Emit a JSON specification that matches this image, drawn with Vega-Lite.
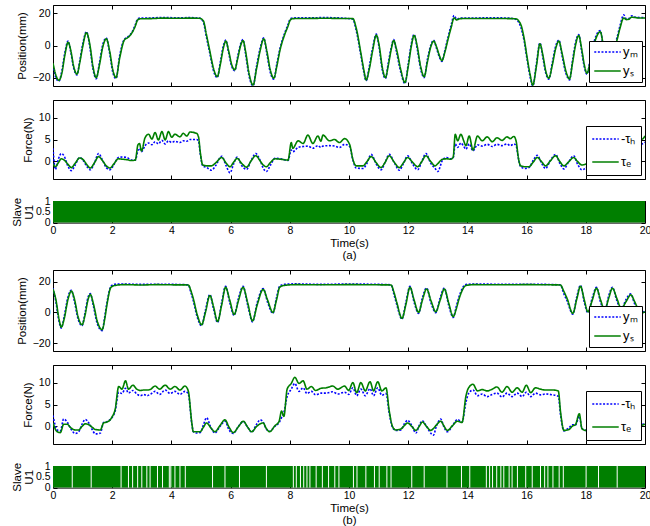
{
"$schema": "https://vega.github.io/schema/vega-lite/v6.json",
"padding": {"left": 10, "top": 4, "right": 0, "bottom": 0},
"config": {
  "font": "Liberation Sans",
  "view": {"stroke": "#000", "strokeWidth": 1},
  "axis": {"grid": false, "domain": false, "tickColor": "#000", "tickSize": -4, "tickWidth": 1, "labelPadding": 7, "labelFontSize": 10.5, "labelColor": "#000", "titleFontSize": 11.5, "titleFontWeight": "normal", "titleColor": "#000", "labelFlush": false, "labelOverlap": false, "titlePadding": 5},
  "legend": {"orient": "none", "title": null, "strokeColor": "#000", "fillColor": "#fff", "padding": 4, "symbolType": "stroke", "symbolSize": 700, "symbolStrokeWidth": 1.6, "labelFontSize": 13, "labelColor": "#000", "labelOffset": 1, "rowPadding": 5, "clipHeight": 14}
},
"datasets": {
  "posA": [
    {"t":0,"ys":-10.9,"ym":-12},{"t":0.1,"ys":-18.5,"ym":-20},{"t":0.2,"ys":-21.5,"ym":-22},{"t":0.3,"ys":-17,"ym":-15.5},{"t":0.4,"ys":-6,"ym":-4.5},{"t":0.51,"ys":2,"ym":2.8},{"t":0.6,"ys":-3,"ym":-4},{"t":0.7,"ys":-13,"ym":-14},{"t":0.81,"ys":-17.7,"ym":-18.2},{"t":0.9,"ys":-11,"ym":-10},{"t":1.0,"ys":-1,"ym":0.5},{"t":1.13,"ys":7.9,"ym":8.5},{"t":1.25,"ys":0,"ym":-1.5},{"t":1.35,"ys":-13,"ym":-14.5},{"t":1.46,"ys":-19.8,"ym":-20.5},{"t":1.57,"ys":-12,"ym":-10.5},{"t":1.68,"ys":-1,"ym":0.5},{"t":1.8,"ys":4.1,"ym":4.6},{"t":1.92,"ys":-4,"ym":-5.5},{"t":2.02,"ys":-15,"ym":-16.5},{"t":2.13,"ys":-19.8,"ym":-20.4},{"t":2.25,"ys":-8,"ym":-6.5},{"t":2.41,"ys":3.3,"ym":3.8},{"t":2.55,"ys":5.2,"ym":5.6},{"t":2.67,"ys":7.9,"ym":8.3},{"t":2.78,"ys":12,"ym":12.8},{"t":2.86,"ys":15.8,"ym":16.4},{"t":2.95,"ys":16.5,"ym":16.9},{"t":3.3,"ys":16.6,"ym":17},{"t":3.7,"ys":16.9,"ym":17.3},{"t":4.2,"ys":16.8,"ym":17.1},{"t":4.6,"ys":16.9,"ym":17.2},{"t":4.95,"ys":16.8,"ym":16.9},{"t":5.08,"ys":15.2,"ym":14.4},{"t":5.18,"ys":7,"ym":5.5},{"t":5.3,"ys":-3.6,"ym":-5},{"t":5.42,"ys":-14,"ym":-15.5},{"t":5.55,"ys":-19.2,"ym":-19.8},{"t":5.65,"ys":-12,"ym":-10.5},{"t":5.75,"ys":-2,"ym":-0.5},{"t":5.84,"ys":2.7,"ym":3.3},{"t":5.93,"ys":-3,"ym":-4.2},{"t":6.04,"ys":-12,"ym":-13},{"t":6.14,"ys":-15,"ym":-15.6},{"t":6.24,"ys":-8,"ym":-6.8},{"t":6.34,"ys":0,"ym":1},{"t":6.42,"ys":3.1,"ym":3.6},{"t":6.5,"ys":-3,"ym":-4.5},{"t":6.62,"ys":-17,"ym":-18.5},{"t":6.76,"ys":-24.4,"ym":-24.8},{"t":6.88,"ys":-14,"ym":-12.5},{"t":7.0,"ys":-3,"ym":-1.5},{"t":7.12,"ys":4.1,"ym":4.7},{"t":7.22,"ys":-3,"ym":-4.5},{"t":7.34,"ys":-15,"ym":-16.5},{"t":7.46,"ys":-20.2,"ym":-20.8},{"t":7.56,"ys":-13,"ym":-11.5},{"t":7.66,"ys":-3.6,"ym":-2.5},{"t":7.83,"ys":6.9,"ym":7.8},{"t":7.93,"ys":11.5,"ym":12.5},{"t":8.02,"ys":15.8,"ym":16.5},{"t":8.1,"ys":16.6,"ym":17},{"t":8.6,"ys":16.7,"ym":17.1},{"t":9.2,"ys":16.8,"ym":17.2},{"t":9.7,"ys":16.7,"ym":17},{"t":10.13,"ys":16.6,"ym":16.2},{"t":10.24,"ys":11,"ym":9.5},{"t":10.41,"ys":-5.6,"ym":-7},{"t":10.5,"ys":-15,"ym":-16.3},{"t":10.58,"ys":-21.3,"ym":-21.8},{"t":10.68,"ys":-15,"ym":-13.5},{"t":10.8,"ys":-3,"ym":-1.5},{"t":10.92,"ys":6.4,"ym":7},{"t":11.02,"ys":0,"ym":-1.5},{"t":11.12,"ys":-13,"ym":-14.5},{"t":11.23,"ys":-19.8,"ym":-20.4},{"t":11.33,"ys":-12,"ym":-10.5},{"t":11.42,"ys":-3,"ym":-1.8},{"t":11.51,"ys":3.1,"ym":3.7},{"t":11.6,"ys":-2,"ym":-3.5},{"t":11.75,"ys":-15,"ym":-16.5},{"t":11.89,"ys":-22.9,"ym":-23.5},{"t":12.0,"ys":-13,"ym":-11.5},{"t":12.1,"ys":-1,"ym":0.5},{"t":12.2,"ys":6.2,"ym":6.8},{"t":12.3,"ys":0,"ym":-1.5},{"t":12.42,"ys":-13,"ym":-14.5},{"t":12.54,"ys":-19.2,"ym":-19.8},{"t":12.65,"ys":-10,"ym":-8.5},{"t":12.76,"ys":-1,"ym":0},{"t":12.86,"ys":2.7,"ym":3.2},{"t":12.96,"ys":-1,"ym":-2},{"t":13.05,"ys":-6,"ym":-7},{"t":13.14,"ys":-9.4,"ym":-9.8},{"t":13.24,"ys":-4,"ym":-3},{"t":13.33,"ys":2.7,"ym":3.8},{"t":13.45,"ys":11,"ym":12.5},{"t":13.55,"ys":17,"ym":18.5},{"t":13.64,"ys":15.8,"ym":16.2},{"t":13.75,"ys":16.6,"ym":16.9},{"t":14.3,"ys":16.7,"ym":17},{"t":14.9,"ys":16.7,"ym":17.1},{"t":15.4,"ys":16.6,"ym":16.9},{"t":15.63,"ys":16.5,"ym":16.2},{"t":15.8,"ys":13.1,"ym":11.5},{"t":15.92,"ys":4,"ym":2.5},{"t":16.02,"ys":-7.7,"ym":-9},{"t":16.12,"ys":-18,"ym":-19.5},{"t":16.21,"ys":-24.4,"ym":-24.9},{"t":16.33,"ys":-13,"ym":-11.5},{"t":16.45,"ys":1,"ym":1.6},{"t":16.55,"ys":-6,"ym":-7.5},{"t":16.65,"ys":-16,"ym":-17.2},{"t":16.75,"ys":-20.2,"ym":-20.8},{"t":16.87,"ys":-12,"ym":-10.5},{"t":16.98,"ys":-2,"ym":-0.5},{"t":17.09,"ys":2.7,"ym":3.3},{"t":17.2,"ys":-5,"ym":-6.5},{"t":17.33,"ys":-16,"ym":-17.3},{"t":17.45,"ys":-20.6,"ym":-21.2},{"t":17.55,"ys":-11,"ym":-9.5},{"t":17.65,"ys":0,"ym":1.5},{"t":17.76,"ys":6.2,"ym":6.8},{"t":17.86,"ys":-2,"ym":-3.5},{"t":17.95,"ys":-12,"ym":-13.3},{"t":18.04,"ys":-17.1,"ym":-17.7},{"t":18.15,"ys":-10,"ym":-8.5},{"t":18.3,"ys":2,"ym":3.5},{"t":18.49,"ys":8.5,"ym":9.2},{"t":18.6,"ys":-1,"ym":-2.5},{"t":18.7,"ys":-10,"ym":-11.3},{"t":18.77,"ys":-14,"ym":-14.5},{"t":18.9,"ys":-6,"ym":-4.5},{"t":19.05,"ys":3,"ym":4.5},{"t":19.16,"ys":11,"ym":12.5},{"t":19.28,"ys":17,"ym":18.9},{"t":19.37,"ys":16,"ym":16.5},{"t":19.45,"ys":16.2,"ym":16.6},{"t":19.55,"ys":17.5,"ym":18.3},{"t":19.65,"ys":17.3,"ym":17.6},{"t":19.8,"ys":17,"ym":17.3},{"t":20,"ys":17,"ym":17.2}
  ],
  "forceA": [
    {"t":0,"te":-0.5,"th":3.0},{"t":0.08,"te":-1.2,"th":-1.8},{"t":0.18,"te":-0.3,"th":0.5},{"t":0.28,"te":0.6,"th":1.8},{"t":0.38,"te":0.3,"th":1.2},{"t":0.5,"te":-0.6,"th":-1.0},{"t":0.62,"te":-1.4,"th":-2.1},{"t":0.75,"te":-0.4,"th":-0.8},{"t":0.9,"te":0.8,"th":0.9},{"t":1.02,"te":0.4,"th":0.2},{"t":1.15,"te":-0.8,"th":-1.2},{"t":1.26,"te":-1.5,"th":-1.9},{"t":1.4,"te":-0.3,"th":-0.4},{"t":1.54,"te":1.1,"th":1.8},{"t":1.66,"te":0.3,"th":0.5},{"t":1.8,"te":-1.0,"th":-1.4},{"t":1.93,"te":-1.5,"th":-1.9},{"t":2.05,"te":-0.6,"th":-0.8},{"t":2.21,"te":0.6,"th":0.9},{"t":2.35,"te":0.5,"th":1.0},{"t":2.5,"te":0.4,"th":0.9},{"t":2.65,"te":0.2,"th":0.3},{"t":2.78,"te":0.3,"th":0.3},{"t":2.87,"te":3.8,"th":2.5},{"t":2.92,"te":4.1,"th":3.0},{"t":2.99,"te":2.4,"th":2.2},{"t":3.11,"te":5.4,"th":3.6},{"t":3.23,"te":6.2,"th":4.2},{"t":3.34,"te":5.1,"th":3.8},{"t":3.45,"te":6.6,"th":4.5},{"t":3.56,"te":4.9,"th":4.0},{"t":3.68,"te":6.8,"th":4.8},{"t":3.79,"te":4.9,"th":4.0},{"t":3.9,"te":6.8,"th":4.7},{"t":4.01,"te":5.5,"th":4.3},{"t":4.12,"te":6.2,"th":4.6},{"t":4.29,"te":5.6,"th":4.3},{"t":4.4,"te":6.4,"th":4.7},{"t":4.52,"te":5.8,"th":4.6},{"t":4.63,"te":6.7,"th":5.0},{"t":4.85,"te":6.4,"th":5.0},{"t":4.92,"te":5.5,"th":4.6},{"t":4.97,"te":2.4,"th":2.0},{"t":5.06,"te":-0.8,"th":-1.0},{"t":5.2,"te":-1.0,"th":-1.4},{"t":5.35,"te":-1.0,"th":-2.0},{"t":5.5,"te":-0.3,"th":-0.9},{"t":5.7,"te":0.9,"th":1.2},{"t":5.85,"te":-0.4,"th":-1.0},{"t":5.98,"te":-1.2,"th":-2.6},{"t":6.1,"te":-0.2,"th":-0.6},{"t":6.22,"te":0.7,"th":1.0},{"t":6.38,"te":-0.5,"th":-1.0},{"t":6.54,"te":-1.3,"th":-1.8},{"t":6.7,"te":0.2,"th":0.3},{"t":6.85,"te":1.3,"th":1.8},{"t":7.0,"te":0.1,"th":0.2},{"t":7.1,"te":-0.8,"th":-1.5},{"t":7.21,"te":-1.2,"th":-2.3},{"t":7.35,"te":-0.2,"th":-0.8},{"t":7.5,"te":0.6,"th":0.7},{"t":7.7,"te":0.5,"th":0.6},{"t":7.94,"te":0.3,"th":0.2},{"t":8.05,"te":4.3,"th":2.6},{"t":8.1,"te":3.0,"th":2.2},{"t":8.28,"te":4.7,"th":3.2},{"t":8.45,"te":4.1,"th":3.4},{"t":8.61,"te":6.0,"th":3.5},{"t":8.78,"te":4.1,"th":3.0},{"t":8.95,"te":5.8,"th":3.6},{"t":9.05,"te":4.6,"th":3.2},{"t":9.12,"te":6.0,"th":3.5},{"t":9.34,"te":4.7,"th":3.6},{"t":9.51,"te":5.0,"th":3.5},{"t":9.68,"te":4.3,"th":3.2},{"t":9.85,"te":5.2,"th":3.9},{"t":10.02,"te":3.9,"th":3.4},{"t":10.13,"te":0.5,"th":0.4},{"t":10.24,"te":-1.0,"th":-1.5},{"t":10.47,"te":-1.0,"th":-1.6},{"t":10.6,"te":-0.1,"th":-0.5},{"t":10.75,"te":1.1,"th":1.6},{"t":10.92,"te":-0.3,"th":-0.6},{"t":11.08,"te":-1.4,"th":-1.9},{"t":11.22,"te":-0.2,"th":-0.2},{"t":11.36,"te":1.3,"th":1.6},{"t":11.53,"te":-0.2,"th":-0.3},{"t":11.7,"te":-1.4,"th":-2.0},{"t":11.84,"te":-0.3,"th":-0.5},{"t":11.98,"te":0.9,"th":1.3},{"t":12.15,"te":-0.2,"th":-0.6},{"t":12.32,"te":-1.2,"th":-1.9},{"t":12.46,"te":0.0,"th":0.0},{"t":12.6,"te":1.3,"th":1.8},{"t":12.76,"te":0.0,"th":-0.4},{"t":12.91,"te":-1.0,"th":-1.6},{"t":13.0,"te":-0.5,"th":-2.3},{"t":13.16,"te":0.5,"th":0.3},{"t":13.3,"te":0.6,"th":0.9},{"t":13.43,"te":0.5,"th":0.6},{"t":13.52,"te":1.0,"th":0.8},{"t":13.59,"te":6.2,"th":4.0},{"t":13.67,"te":4.7,"th":3.2},{"t":13.78,"te":6.2,"th":4.2},{"t":13.87,"te":4.8,"th":3.5},{"t":13.95,"te":3.6,"th":2.8},{"t":14.06,"te":5.8,"th":4.0},{"t":14.19,"te":2.6,"th":2.4},{"t":14.34,"te":5.8,"th":3.8},{"t":14.5,"te":4.7,"th":3.5},{"t":14.67,"te":5.6,"th":3.9},{"t":14.84,"te":4.5,"th":3.4},{"t":15.0,"te":5.4,"th":3.9},{"t":15.17,"te":4.8,"th":3.6},{"t":15.34,"te":5.6,"th":4.0},{"t":15.45,"te":5.2,"th":3.6},{"t":15.57,"te":5.7,"th":4.0},{"t":15.65,"te":4.5,"th":3.5},{"t":15.72,"te":0.9,"th":0.8},{"t":15.8,"te":-1.0,"th":-1.2},{"t":15.95,"te":-1.2,"th":-1.6},{"t":16.08,"te":-1.2,"th":-1.4},{"t":16.22,"te":-0.2,"th":0.2},{"t":16.36,"te":0.9,"th":1.4},{"t":16.5,"te":0.0,"th":-0.3},{"t":16.64,"te":-1.0,"th":-1.6},{"t":16.8,"te":0.1,"th":0.2},{"t":16.98,"te":1.3,"th":1.6},{"t":17.12,"te":0.0,"th":-0.4},{"t":17.26,"te":-1.0,"th":-1.7},{"t":17.42,"te":-0.1,"th":-0.1},{"t":17.59,"te":0.9,"th":1.3},{"t":17.72,"te":0.0,"th":-0.6},{"t":17.87,"te":-0.8,"th":-1.9},{"t":18.0,"te":-0.6,"th":-1.5},{"t":18.2,"te":0.3,"th":0.5},{"t":18.4,"te":-0.6,"th":-1.0},{"t":18.6,"te":0.5,"th":0.8},{"t":18.85,"te":-0.5,"th":-1.0},{"t":19.1,"te":0.4,"th":0.6},{"t":19.35,"te":-0.3,"th":-0.6},{"t":19.55,"te":0.6,"th":0.5},{"t":19.65,"te":3.0,"th":2.4},{"t":19.78,"te":6.2,"th":4.5},{"t":19.88,"te":5.0,"th":4.0},{"t":20,"te":5.8,"th":4.4}
  ],
  "posB": [
    {"t":0,"ys":15.2,"ym":15.8},{"t":0.1,"ys":8,"ym":6.5},{"t":0.2,"ys":-4,"ym":-5.5},{"t":0.28,"ys":-9.5,"ym":-10.2},{"t":0.38,"ys":-4,"ym":-2.5},{"t":0.5,"ys":8,"ym":9.5},{"t":0.62,"ys":13.8,"ym":14.4},{"t":0.72,"ys":9,"ym":7.5},{"t":0.85,"ys":-3,"ym":-4.5},{"t":0.98,"ys":-8,"ym":-8.6},{"t":1.08,"ys":-2,"ym":-0.5},{"t":1.18,"ys":8,"ym":9.5},{"t":1.26,"ys":11.7,"ym":12.3},{"t":1.36,"ys":6,"ym":4.5},{"t":1.5,"ys":-6,"ym":-7.5},{"t":1.66,"ys":-11.2,"ym":-11.8},{"t":1.75,"ys":-4,"ym":-2.5},{"t":1.82,"ys":4.7,"ym":6},{"t":1.96,"ys":16.3,"ym":17},{"t":2.1,"ys":17.5,"ym":18.3},{"t":2.4,"ys":18,"ym":18.4},{"t":3.0,"ys":17.8,"ym":18.2},{"t":3.5,"ys":18,"ym":18.3},{"t":4.0,"ys":17.9,"ym":18.2},{"t":4.57,"ys":17.8,"ym":17.9},{"t":4.66,"ys":14,"ym":12.8},{"t":4.74,"ys":8.9,"ym":7.5},{"t":4.88,"ys":-2,"ym":-3.5},{"t":5.02,"ys":-8,"ym":-8.6},{"t":5.15,"ys":0,"ym":1.5},{"t":5.3,"ys":11,"ym":11.6},{"t":5.42,"ys":4,"ym":2.5},{"t":5.56,"ys":-5.9,"ym":-6.5},{"t":5.7,"ys":5,"ym":6.5},{"t":5.83,"ys":16.3,"ym":16.9},{"t":5.97,"ys":8,"ym":6.5},{"t":6.12,"ys":-1.3,"ym":-1.9},{"t":6.27,"ys":8,"ym":9.5},{"t":6.42,"ys":16.3,"ym":16.9},{"t":6.58,"ys":6,"ym":4.5},{"t":6.74,"ys":-5.5,"ym":-6.1},{"t":6.9,"ys":5,"ym":6.5},{"t":7.1,"ys":14.9,"ym":15.5},{"t":7.25,"ys":8,"ym":6.5},{"t":7.43,"ys":0,"ym":-0.6},{"t":7.55,"ys":8,"ym":9.5},{"t":7.66,"ys":16.3,"ym":17},{"t":7.8,"ys":17.5,"ym":18.2},{"t":8.2,"ys":18,"ym":18.5},{"t":9.0,"ys":17.9,"ym":18.2},{"t":10.0,"ys":18,"ym":18.4},{"t":11.0,"ys":17.9,"ym":18.2},{"t":11.42,"ys":17.8,"ym":17.9},{"t":11.52,"ys":13,"ym":11.5},{"t":11.61,"ys":6.8,"ym":5.3},{"t":11.79,"ys":-3.8,"ym":-4.4},{"t":11.92,"ys":5,"ym":6.5},{"t":12.06,"ys":16.3,"ym":16.9},{"t":12.2,"ys":8,"ym":6.5},{"t":12.35,"ys":0,"ym":-0.6},{"t":12.48,"ys":8,"ym":9.5},{"t":12.62,"ys":15.2,"ym":15.8},{"t":12.78,"ys":7,"ym":5.5},{"t":12.93,"ys":0.4,"ym":-0.2},{"t":13.08,"ys":8,"ym":9.5},{"t":13.22,"ys":15.2,"ym":15.8},{"t":13.37,"ys":6,"ym":4.5},{"t":13.52,"ys":-2.7,"ym":-3.3},{"t":13.62,"ys":2,"ym":3.5},{"t":13.72,"ys":8.9,"ym":10.4},{"t":13.95,"ys":17.4,"ym":18.1},{"t":14.2,"ys":18,"ym":18.4},{"t":15.0,"ys":17.9,"ym":18.3},{"t":16.0,"ys":18,"ym":18.3},{"t":17.14,"ys":17.8,"ym":17.9},{"t":17.25,"ys":14,"ym":12.5},{"t":17.37,"ys":8.9,"ym":7.4},{"t":17.56,"ys":-0.6,"ym":-1.2},{"t":17.7,"ys":9,"ym":10.5},{"t":17.82,"ys":17,"ym":17.6},{"t":17.95,"ys":8,"ym":6.5},{"t":18.07,"ys":0.4,"ym":-0.2},{"t":18.22,"ys":8,"ym":9.5},{"t":18.36,"ys":15.7,"ym":16.3},{"t":18.5,"ys":8,"ym":6.5},{"t":18.64,"ys":1.5,"ym":0.9},{"t":18.77,"ys":9,"ym":10.5},{"t":18.9,"ys":15.7,"ym":16.3},{"t":19.05,"ys":9,"ym":7.5},{"t":19.2,"ys":2.5,"ym":1.9},{"t":19.36,"ys":7,"ym":8.5},{"t":19.52,"ys":11.4,"ym":12},{"t":19.65,"ys":7,"ym":5.5},{"t":19.76,"ys":2.5,"ym":1.9},{"t":19.88,"ys":-0.5,"ym":-0.3},{"t":20,"ys":0.5,"ym":1.2}
  ],
  "forceB": [
    {"t":0,"te":0.8,"th":2.5},{"t":0.14,"te":-1.2,"th":-0.8},{"t":0.25,"te":-1.4,"th":-1.0},{"t":0.36,"te":0.5,"th":1.7},{"t":0.48,"te":0.5,"th":1.0},{"t":0.6,"te":-0.3,"th":-0.5},{"t":0.75,"te":-0.8,"th":-1.6},{"t":0.87,"te":-0.8,"th":-1.2},{"t":0.98,"te":0.0,"th":0.5},{"t":1.09,"te":0.6,"th":1.6},{"t":1.21,"te":0.4,"th":0.8},{"t":1.33,"te":-0.2,"th":-0.8},{"t":1.43,"te":-0.7,"th":-1.7},{"t":1.6,"te":-0.8,"th":-1.5},{"t":1.71,"te":0.8,"th":0.9},{"t":1.82,"te":1.0,"th":1.1},{"t":1.88,"te":1.2,"th":1.3},{"t":1.99,"te":2.1,"th":2.0},{"t":2.1,"te":3.9,"th":3.5},{"t":2.22,"te":9.1,"th":7.8},{"t":2.33,"te":8.5,"th":7.5},{"t":2.45,"te":10.4,"th":8.7},{"t":2.55,"te":8.5,"th":7.6},{"t":2.7,"te":9.4,"th":8.2},{"t":2.83,"te":8.5,"th":7.4},{"t":2.95,"te":8.2,"th":7.0},{"t":3.06,"te":8.3,"th":7.3},{"t":3.18,"te":8.3,"th":7.0},{"t":3.28,"te":8.4,"th":7.3},{"t":3.45,"te":9.2,"th":8.0},{"t":3.6,"te":8.5,"th":7.3},{"t":3.79,"te":9.4,"th":8.3},{"t":3.96,"te":8.5,"th":7.5},{"t":4.12,"te":9.1,"th":8.0},{"t":4.29,"te":8.3,"th":7.3},{"t":4.46,"te":9.2,"th":8.0},{"t":4.57,"te":8.1,"th":7.4},{"t":4.69,"te":0.8,"th":0.6},{"t":4.74,"te":-1.2,"th":-1.2},{"t":4.85,"te":-1.2,"th":-1.5},{"t":4.97,"te":-1.2,"th":-1.4},{"t":5.08,"te":-0.2,"th":0.3},{"t":5.19,"te":0.8,"th":2.0},{"t":5.33,"te":-0.3,"th":-0.2},{"t":5.47,"te":-1.2,"th":-1.5},{"t":5.64,"te":0.2,"th":0.0},{"t":5.81,"te":1.5,"th":1.2},{"t":5.95,"te":-0.2,"th":-0.8},{"t":6.09,"te":-1.4,"th":-1.6},{"t":6.27,"te":0.0,"th":0.1},{"t":6.43,"te":1.2,"th":1.1},{"t":6.57,"te":-0.1,"th":-0.1},{"t":6.71,"te":-1.2,"th":-1.3},{"t":6.88,"te":0.0,"th":0.5},{"t":7.0,"te":0.6,"th":1.5},{"t":7.1,"te":0.8,"th":1.0},{"t":7.2,"te":-0.4,"th":-0.5},{"t":7.32,"te":-1.2,"th":-1.1},{"t":7.49,"te":0.1,"th":0.0},{"t":7.64,"te":1.2,"th":0.9},{"t":7.72,"te":3.5,"th":2.0},{"t":7.8,"te":2.3,"th":3.2},{"t":7.91,"te":8.5,"th":6.8},{"t":8.05,"te":9.8,"th":8.5},{"t":8.17,"te":11.2,"th":9.8},{"t":8.31,"te":9.8,"th":8.0},{"t":8.45,"te":10.4,"th":8.8},{"t":8.58,"te":8.5,"th":7.5},{"t":8.73,"te":9.1,"th":8.0},{"t":8.87,"te":8.2,"th":7.2},{"t":9.06,"te":8.7,"th":7.6},{"t":9.23,"te":8.8,"th":7.6},{"t":9.45,"te":9.2,"th":7.9},{"t":9.62,"te":8.5,"th":7.4},{"t":9.85,"te":9.2,"th":7.8},{"t":9.99,"te":8.2,"th":7.3},{"t":10.13,"te":10.0,"th":8.8},{"t":10.26,"te":7.7,"th":7.0},{"t":10.4,"te":10.0,"th":8.5},{"t":10.55,"te":8.1,"th":7.0},{"t":10.71,"te":10.2,"th":8.6},{"t":10.83,"te":8.1,"th":7.0},{"t":10.97,"te":10.2,"th":8.8},{"t":11.11,"te":8.1,"th":7.1},{"t":11.25,"te":8.8,"th":7.5},{"t":11.36,"te":3.5,"th":3.0},{"t":11.47,"te":0.0,"th":-0.2},{"t":11.58,"te":-0.8,"th":-0.9},{"t":11.75,"te":-0.6,"th":-0.8},{"t":11.87,"te":0.2,"th":0.6},{"t":11.98,"te":0.8,"th":1.4},{"t":12.12,"te":0.0,"th":0.2},{"t":12.26,"te":-0.9,"th":-1.5},{"t":12.37,"te":0.0,"th":0.2},{"t":12.48,"te":1.0,"th":1.3},{"t":12.62,"te":0.0,"th":0.0},{"t":12.76,"te":-0.9,"th":-1.5},{"t":12.85,"te":-0.5,"th":-2.0},{"t":12.95,"te":0.3,"th":0.0},{"t":13.1,"te":1.2,"th":1.7},{"t":13.2,"te":0.2,"th":0.0},{"t":13.32,"te":-0.9,"th":-1.2},{"t":13.5,"te":0.2,"th":0.2},{"t":13.66,"te":1.2,"th":1.6},{"t":13.82,"te":0.9,"th":1.0},{"t":13.95,"te":6.9,"th":5.5},{"t":14.04,"te":8.8,"th":7.5},{"t":14.19,"te":9.6,"th":8.3},{"t":14.34,"te":8.1,"th":7.0},{"t":14.5,"te":8.4,"th":7.4},{"t":14.67,"te":8.1,"th":6.8},{"t":14.84,"te":8.5,"th":7.3},{"t":15.0,"te":9.0,"th":7.6},{"t":15.17,"te":7.8,"th":6.7},{"t":15.34,"te":9.1,"th":7.6},{"t":15.51,"te":7.8,"th":6.8},{"t":15.68,"te":8.8,"th":7.6},{"t":15.85,"te":7.8,"th":6.8},{"t":15.99,"te":9.4,"th":7.8},{"t":16.14,"te":7.7,"th":6.8},{"t":16.3,"te":8.8,"th":7.6},{"t":16.47,"te":8.5,"th":7.2},{"t":16.64,"te":8.3,"th":7.4},{"t":16.87,"te":8.3,"th":7.2},{"t":17.07,"te":8.1,"th":6.9},{"t":17.15,"te":3.1,"th":2.5},{"t":17.26,"te":-0.9,"th":-1.0},{"t":17.43,"te":-0.7,"th":-0.3},{"t":17.55,"te":0.1,"th":0.4},{"t":17.65,"te":0.4,"th":0.3},{"t":17.78,"te":2.9,"th":2.3},{"t":17.87,"te":-0.5,"th":-0.4},{"t":17.98,"te":-0.9,"th":-0.9},{"t":18.2,"te":-0.1,"th":0.3},{"t":18.45,"te":0.9,"th":1.2},{"t":18.7,"te":-0.5,"th":-0.9},{"t":18.95,"te":0.7,"th":1.0},{"t":19.2,"te":-0.6,"th":-1.0},{"t":19.45,"te":0.8,"th":1.0},{"t":19.65,"te":-0.4,"th":-0.6},{"t":19.78,"te":0.0,"th":0.2},{"t":20,"te":0.5,"th":0.6}
  ],
  "u1A": [{"t0":0,"t1":20,"u":1}],
  "u1Aoff": [],
  "u1B": [{"t0":0,"t1":20,"u":1}],
  "u1Boff": [
    {"t":0.65,"u":0},{"t":1.29,"u":0},{"t":2.30,"u":0},{"t":2.55,"u":0},{"t":2.69,"u":0},{"t":2.86,"u":0},{"t":3.00,"u":0},{"t":3.17,"u":0},{"t":3.28,"u":0},{"t":3.53,"u":0},{"t":3.70,"u":0},{"t":3.93,"u":0},{"t":3.98,"u":0},{"t":4.12,"u":0},{"t":4.29,"u":0},{"t":4.47,"u":0},{"t":5.39,"u":0},{"t":5.81,"u":0},{"t":6.30,"u":0},{"t":7.21,"u":0},{"t":8.12,"u":0},{"t":8.22,"u":0},{"t":8.36,"u":0},{"t":8.47,"u":0},{"t":8.58,"u":0},{"t":8.68,"u":0},{"t":8.89,"u":0},{"t":9.10,"u":0},{"t":9.31,"u":0},{"t":9.52,"u":0},{"t":9.66,"u":0},{"t":10.15,"u":0},{"t":10.27,"u":0},{"t":10.57,"u":0},{"t":10.86,"u":0},{"t":11.02,"u":0},{"t":11.28,"u":0},{"t":11.42,"u":0},{"t":12.12,"u":0},{"t":12.54,"u":0},{"t":13.31,"u":0},{"t":13.80,"u":0},{"t":14.08,"u":0},{"t":14.64,"u":0},{"t":14.75,"u":0},{"t":14.85,"u":0},{"t":14.99,"u":0},{"t":15.13,"u":0},{"t":15.23,"u":0},{"t":15.41,"u":0},{"t":15.51,"u":0},{"t":15.69,"u":0},{"t":15.97,"u":0},{"t":16.19,"u":0},{"t":16.47,"u":0},{"t":16.61,"u":0},{"t":16.72,"u":0},{"t":16.89,"u":0},{"t":17.10,"u":0},{"t":17.24,"u":0},{"t":18.01,"u":0},{"t":18.43,"u":0},{"t":19.06,"u":0}
  ]
},
"spacing": 7,
"resolve": {"scale": {"color": "independent", "strokeDash": "independent"}},
"vconcat": [
 {
  "spacing": 15,
  "resolve": {"scale": {"color": "independent", "strokeDash": "independent"}},
  "vconcat": [
   {
    "spacing": 12,
    "resolve": {"scale": {"color": "independent", "strokeDash": "independent"}},
    "vconcat": [
     {
      "width": 592, "height": 81,
      "data": {"name": "posA"},
      "transform": [{"fold": ["ym", "ys"], "as": ["s", "v"]}],
      "layer": [
       {"mark": {"type": "line", "interpolate": "monotone", "strokeWidth": 1.6, "clip": true},
        "encoding": {
         "x": {"field": "t", "type": "quantitative", "scale": {"domain": [0, 20], "nice": false}, "axis": {"orient": "bottom", "values": [0,2,4,6,8,10,12,14,16,18,20], "labels": false, "title": null}},
         "y": {"field": "v", "type": "quantitative", "scale": {"domain": [-25, 25], "nice": false}, "axis": {"orient": "left", "values": [-20, 0, 20], "title": "Position(mm)"}},
         "color": {"field": "s", "type": "nominal", "scale": {"domain": ["ym", "ys"], "range": ["#0000ff", "#007f00"]}, "legend": {"legendX": 536, "legendY": 36, "labelExpr": "datum.label == 'ym' ? 'yₘ' : 'yₛ'"}},
         "strokeDash": {"field": "s", "type": "nominal", "scale": {"domain": ["ym", "ys"], "range": [[2, 1.6], [1, 0]]}, "legend": {"legendX": 536, "legendY": 36, "labelExpr": "datum.label == 'ym' ? 'yₘ' : 'yₛ'"}}
        }},
       {"mark": {"type": "point", "opacity": 0, "size": 0, "strokeWidth": 0, "clip": true},
        "encoding": {
         "x": {"field": "t", "type": "quantitative", "axis": {"orient": "top", "values": [0,2,4,6,8,10,12,14,16,18,20], "labels": false, "title": null}},
         "y": {"field": "v", "type": "quantitative", "axis": {"orient": "right", "values": [-20, 0, 20], "labels": false, "title": null}}
        }}
      ],
      "resolve": {"axis": {"x": "independent", "y": "independent"}}
     },
     {
      "width": 592, "height": 79,
      "data": {"name": "forceA"},
      "transform": [{"fold": ["th", "te"], "as": ["s", "v"]}],
      "layer": [
       {"mark": {"type": "line", "interpolate": "monotone", "strokeWidth": 1.6, "clip": true},
        "encoding": {
         "x": {"field": "t", "type": "quantitative", "scale": {"domain": [0, 20], "nice": false}, "axis": {"orient": "bottom", "values": [0,2,4,6,8,10,12,14,16,18,20], "labels": false, "title": null}},
         "y": {"field": "v", "type": "quantitative", "scale": {"domain": [-4, 14], "nice": false}, "axis": {"orient": "left", "values": [0, 5, 10], "title": "Force(N)"}},
         "color": {"field": "s", "type": "nominal", "scale": {"domain": ["th", "te"], "range": ["#0000ff", "#007f00"]}, "legend": {"legendX": 533, "legendY": 26, "rowPadding": 7, "clipHeight": 16, "padding": 5, "labelExpr": "datum.label == 'th' ? '-τₕ' : 'τₑ'"}},
         "strokeDash": {"field": "s", "type": "nominal", "scale": {"domain": ["th", "te"], "range": [[2, 1.6], [1, 0]]}, "legend": {"legendX": 533, "legendY": 26, "rowPadding": 7, "clipHeight": 16, "padding": 5, "labelExpr": "datum.label == 'th' ? '-τₕ' : 'τₑ'"}}
        }},
       {"mark": {"type": "point", "opacity": 0, "size": 0, "strokeWidth": 0, "clip": true},
        "encoding": {
         "x": {"field": "t", "type": "quantitative", "axis": {"orient": "top", "values": [0,2,4,6,8,10,12,14,16,18,20], "labels": false, "title": null}},
         "y": {"field": "v", "type": "quantitative", "axis": {"orient": "right", "values": [0, 5, 10], "labels": false, "title": null}}
        }}
      ],
      "resolve": {"axis": {"x": "independent", "y": "independent"}}
     }
    ]
   },
   {
    "width": 592, "height": 21.6,
    "layer": [
     {"data": {"name": "u1A"}, "mark": {"type": "rect", "color": "#007f00"},
      "encoding": {
       "x": {"field": "t0", "type": "quantitative", "scale": {"domain": [0, 20], "nice": false}, "axis": {"orient": "bottom", "values": [0,2,4,6,8,10,12,14,16,18,20], "title": ["Time(s)", "(a)"], "titlePadding": 1, "titleLineHeight": 12.5}},
       "x2": {"field": "t1"},
       "y": {"field": "u", "type": "quantitative", "scale": {"domain": [0, 1], "nice": false}, "axis": {"orient": "left", "values": [0, 0.5, 1], "format": "~g", "title": ["Slave", "U1"], "titleLineHeight": 12, "titlePadding": 1}},
       "y2": {"datum": 0}
      }},
     {"data": {"name": "u1Aoff"}, "mark": {"type": "rule", "color": "#ffffff", "strokeWidth": 1},
      "encoding": {
       "x": {"field": "t", "type": "quantitative", "axis": {"orient": "top", "values": [0,2,4,6,8,10,12,14,16,18,20], "labels": false, "title": null}},
       "y": {"datum": 0, "type": "quantitative", "axis": {"orient": "right", "values": [0, 0.5, 1], "labels": false, "title": null}},
       "y2": {"datum": 1}
      }}
    ],
    "resolve": {"axis": {"x": "independent", "y": "independent"}}
   }
  ]
 },
 {
  "spacing": 15,
  "resolve": {"scale": {"color": "independent", "strokeDash": "independent"}},
  "vconcat": [
   {
    "spacing": 12,
    "resolve": {"scale": {"color": "independent", "strokeDash": "independent"}},
    "vconcat": [
     {
      "width": 592, "height": 81,
      "data": {"name": "posB"},
      "transform": [{"fold": ["ym", "ys"], "as": ["s", "v"]}],
      "layer": [
       {"mark": {"type": "line", "interpolate": "monotone", "strokeWidth": 1.6, "clip": true},
        "encoding": {
         "x": {"field": "t", "type": "quantitative", "scale": {"domain": [0, 20], "nice": false}, "axis": {"orient": "bottom", "values": [0,2,4,6,8,10,12,14,16,18,20], "labels": false, "title": null}},
         "y": {"field": "v", "type": "quantitative", "scale": {"domain": [-25, 27.5], "nice": false}, "axis": {"orient": "left", "values": [-20, 0, 20], "title": "Position(mm)"}},
         "color": {"field": "s", "type": "nominal", "scale": {"domain": ["ym", "ys"], "range": ["#0000ff", "#007f00"]}, "legend": {"legendX": 536, "legendY": 36, "labelExpr": "datum.label == 'ym' ? 'yₘ' : 'yₛ'"}},
         "strokeDash": {"field": "s", "type": "nominal", "scale": {"domain": ["ym", "ys"], "range": [[2, 1.6], [1, 0]]}, "legend": {"legendX": 536, "legendY": 36, "labelExpr": "datum.label == 'ym' ? 'yₘ' : 'yₛ'"}}
        }},
       {"mark": {"type": "point", "opacity": 0, "size": 0, "strokeWidth": 0, "clip": true},
        "encoding": {
         "x": {"field": "t", "type": "quantitative", "axis": {"orient": "top", "values": [0,2,4,6,8,10,12,14,16,18,20], "labels": false, "title": null}},
         "y": {"field": "v", "type": "quantitative", "axis": {"orient": "right", "values": [-20, 0, 20], "labels": false, "title": null}}
        }}
      ],
      "resolve": {"axis": {"x": "independent", "y": "independent"}}
     },
     {
      "width": 592, "height": 79,
      "data": {"name": "forceB"},
      "transform": [{"fold": ["th", "te"], "as": ["s", "v"]}],
      "layer": [
       {"mark": {"type": "line", "interpolate": "monotone", "strokeWidth": 1.6, "clip": true},
        "encoding": {
         "x": {"field": "t", "type": "quantitative", "scale": {"domain": [0, 20], "nice": false}, "axis": {"orient": "bottom", "values": [0,2,4,6,8,10,12,14,16,18,20], "labels": false, "title": null}},
         "y": {"field": "v", "type": "quantitative", "scale": {"domain": [-4, 14], "nice": false}, "axis": {"orient": "left", "values": [0, 5, 10], "title": "Force(N)"}},
         "color": {"field": "s", "type": "nominal", "scale": {"domain": ["th", "te"], "range": ["#0000ff", "#007f00"]}, "legend": {"legendX": 533, "legendY": 26, "rowPadding": 7, "clipHeight": 16, "padding": 5, "labelExpr": "datum.label == 'th' ? '-τₕ' : 'τₑ'"}},
         "strokeDash": {"field": "s", "type": "nominal", "scale": {"domain": ["th", "te"], "range": [[2, 1.6], [1, 0]]}, "legend": {"legendX": 533, "legendY": 26, "rowPadding": 7, "clipHeight": 16, "padding": 5, "labelExpr": "datum.label == 'th' ? '-τₕ' : 'τₑ'"}}
        }},
       {"mark": {"type": "point", "opacity": 0, "size": 0, "strokeWidth": 0, "clip": true},
        "encoding": {
         "x": {"field": "t", "type": "quantitative", "axis": {"orient": "top", "values": [0,2,4,6,8,10,12,14,16,18,20], "labels": false, "title": null}},
         "y": {"field": "v", "type": "quantitative", "axis": {"orient": "right", "values": [0, 5, 10], "labels": false, "title": null}}
        }}
      ],
      "resolve": {"axis": {"x": "independent", "y": "independent"}}
     }
    ]
   },
   {
    "width": 592, "height": 21.6,
    "layer": [
     {"data": {"name": "u1B"}, "mark": {"type": "rect", "color": "#007f00"},
      "encoding": {
       "x": {"field": "t0", "type": "quantitative", "scale": {"domain": [0, 20], "nice": false}, "axis": {"orient": "bottom", "values": [0,2,4,6,8,10,12,14,16,18,20], "title": ["Time(s)", "(b)"], "titlePadding": 1, "titleLineHeight": 12.5}},
       "x2": {"field": "t1"},
       "y": {"field": "u", "type": "quantitative", "scale": {"domain": [0, 1], "nice": false}, "axis": {"orient": "left", "values": [0, 0.5, 1], "format": "~g", "title": ["Slave", "U1"], "titleLineHeight": 12, "titlePadding": 1}},
       "y2": {"datum": 0}
      }},
     {"data": {"name": "u1Boff"}, "mark": {"type": "rule", "color": "#ffffff", "strokeWidth": 1},
      "encoding": {
       "x": {"field": "t", "type": "quantitative", "axis": {"orient": "top", "values": [0,2,4,6,8,10,12,14,16,18,20], "labels": false, "title": null}},
       "y": {"datum": 0, "type": "quantitative", "axis": {"orient": "right", "values": [0, 0.5, 1], "labels": false, "title": null}},
       "y2": {"datum": 1}
      }}
    ],
    "resolve": {"axis": {"x": "independent", "y": "independent"}}
   }
  ]
 }
]
}
